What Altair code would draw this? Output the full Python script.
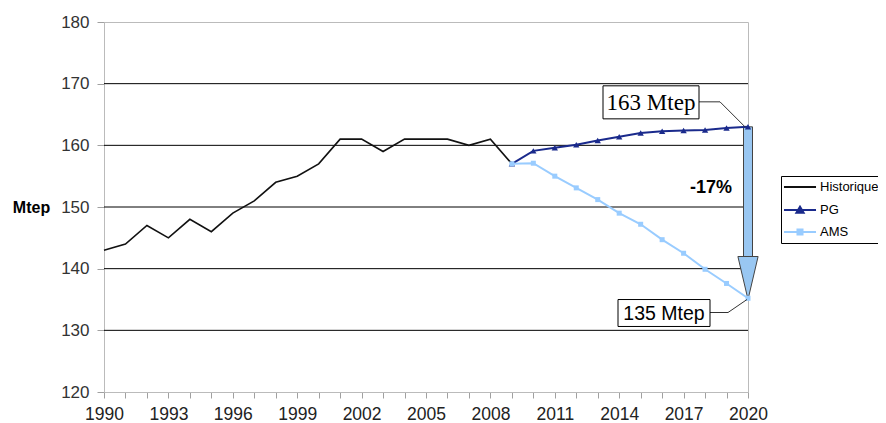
import altair as alt
import pandas as pd

# ---------------- data ----------------
hist_years = list(range(1990, 2010))
hist_values = [143, 144, 147, 145, 148, 146, 149, 151, 154, 155,
               157, 161, 161, 159, 161, 161, 161, 160, 161, 157]

proj_years = list(range(2009, 2021))
pg_values = [157.0, 159.1, 159.6, 160.1, 160.8, 161.4, 162.0, 162.3, 162.4, 162.5, 162.8, 163.0]
ams_values = [157.0, 157.1, 155.0, 153.1, 151.2, 149.0, 147.2, 144.7, 142.5, 139.9, 137.6, 135.2]

series_names = ["Historique", "PG", "AMS"]
series_colors = ["#111111", "#1A2A8C", "#99CCFF"]

y_ticks = [120, 130, 140, 150, 160, 170, 180]
grid_values = [130, 140, 150, 160, 170]
x_years = list(range(1990, 2021))

# annotation values
label_year = 2020
pg_end = 163
ams_end = 135
arrow_shaft_end = 141.5
change_pct = round((ams_end - pg_end) / pg_end * 100)

# ---------------- tables ----------------
hist_df = pd.DataFrame({"year": hist_years, "value": hist_values, "series": "Historique"})
pg_df = pd.DataFrame({"year": proj_years, "value": pg_values, "series": "PG"})
ams_df = pd.DataFrame({"year": proj_years, "value": ams_values, "series": "AMS"})
all_df = pd.concat([hist_df, pg_df, ams_df], ignore_index=True)
grid_df = pd.DataFrame({"year": [label_year] * len(grid_values), "value": grid_values})
arrow_df = pd.DataFrame({"year": [label_year], "value": [pg_end], "shaft_end": [arrow_shaft_end],
                         "tip": [ams_end], "mid": [(pg_end + ams_end) / 2],
                         "pct": [f"{change_pct}%"]})
top_lab = pd.DataFrame({"year": [label_year], "value": [pg_end], "label": [f"{pg_end} Mtep"]})
bot_lab = pd.DataFrame({"year": [label_year], "value": [ams_end], "label": [f"{ams_end} Mtep"]})

FONT = "Liberation Sans"

xscale = alt.Scale(domain=[1990, 2020], nice=False, zero=False, padding=0)
yscale = alt.Scale(domain=[120, 180], nice=False, zero=False, padding=0)

x_axis = alt.Axis(values=x_years, title=None, grid=False,
                  labelExpr="(datum.value - 1990) % 3 == 0 ? datum.label : ''",
                  labelOverlap=False, labelFlush=False, labelFont=FONT, labelFontSize=17.5,
                  labelColor="#222222", labelPadding=7, tickSize=6, tickColor="#A0A0A0",
                  domainColor="#BBBBBB", format="d")
y_axis = alt.Axis(values=y_ticks, title="Mtep", grid=False, labelFont=FONT, labelFontSize=17,
                  labelOverlap=False,
                  labelColor="#333333", labelPadding=8, tickSize=7, tickColor="#A0A0A0",
                  domainColor="#BBBBBB", titleFont=FONT, titleFontSize=16, titleFontWeight="bold",
                  titleAngle=0, titleX=-73, titleY=185, titleAlign="center",
                  titleBaseline="middle", titleColor="#000000")

X = alt.X("year:Q", scale=xscale, axis=x_axis)
Y = alt.Y("value:Q", scale=yscale, axis=y_axis)

grid = alt.Chart(grid_df).mark_rule(color="#000000", strokeWidth=1).encode(y=Y)

hist_line = alt.Chart(hist_df).mark_line(color=series_colors[0], strokeWidth=1.6).encode(x=X, y=Y)

shaft = alt.Chart(arrow_df).mark_bar(size=9, orient="vertical", color="#99C7F2",
                                     stroke="#444444", strokeWidth=1).encode(
    x=X, y=Y, y2="shaft_end:Q")
head = alt.Chart(arrow_df).mark_point(shape="M-0.47,-2L0.47,-2L0,0Z", size=1849, filled=True,
                                      fill="#99C7F2", stroke="#444444", strokeWidth=1,
                                      opacity=1).encode(
    x=X, y=alt.Y("tip:Q", scale=yscale, axis=y_axis))

pg_line = alt.Chart(pg_df).mark_line(color=series_colors[1], strokeWidth=2).encode(x=X, y=Y)
pg_pts = alt.Chart(pg_df).mark_point(shape="triangle-up", size=40, filled=True,
                                     color=series_colors[1], opacity=1).encode(x=X, y=Y)
ams_line = alt.Chart(ams_df).mark_line(color=series_colors[2], strokeWidth=2).encode(x=X, y=Y)
ams_pts = alt.Chart(ams_df).mark_point(shape="square", size=25, filled=True,
                                       color=series_colors[2], opacity=1).encode(x=X, y=Y)

# legend carrier (invisible in the plot)
legend = alt.Legend(title=None, orient="none", legendX=677, legendY=154, direction="vertical",
                    labelFont=FONT, labelFontSize=13, labelColor="#000000",
                    strokeColor="#000000", fillColor="#FFFFFF", padding=4,
                    symbolSize=144, symbolStrokeWidth=2, symbolOffset=8, labelOffset=13,
                    rowPadding=8, symbolOpacity=1)
legend_layer = alt.Chart(all_df).mark_point(opacity=0, filled=True).encode(
    x=X, y=Y,
    fill=alt.Fill("series:N", scale=alt.Scale(domain=series_names, range=series_colors),
                  legend=legend, sort=series_names),
    stroke=alt.Stroke("series:N", scale=alt.Scale(domain=series_names, range=series_colors),
                      legend=legend, sort=series_names),
    shape=alt.Shape("series:N", scale=alt.Scale(domain=series_names, range=[
        "M-2.67,0H2.67",
        "M-2.67,0H2.67M-0.6,0.45L0,-0.55L0.6,0.45Z",
        "M-2.67,0H2.67M-0.42,-0.42H0.42V0.42H-0.42Z"]), legend=legend, sort=series_names),
)

# annotations
top_leader = alt.Chart(top_lab).mark_point(shape="M-0.98,-0.5L-0.56,-0.5L-0.06,0", size=10000,
                                           filled=False, stroke="#333333", strokeWidth=1,
                                           opacity=1).encode(x=X, y=Y)
top_box = alt.Chart(top_lab).mark_point(shape="M-1,-0.344H1V0.344H-1Z", size=9216, filled=True,
                                        fill="#FFFFFF", stroke="#000000", strokeWidth=1,
                                        opacity=1, xOffset=-97, yOffset=-24.5).encode(x=X, y=Y)
top_text = alt.Chart(top_lab).mark_text(font="Liberation Serif", fontSize=23, color="#000000",
                                        align="center", baseline="middle",
                                        dx=-97, dy=-24).encode(x=X, y=Y, text="label:N")

bot_leader = alt.Chart(bot_lab).mark_point(shape="M-0.76,0.26L-0.4,0.26L-0.02,0", size=10000,
                                           filled=False, stroke="#333333", strokeWidth=1,
                                           opacity=1).encode(x=X, y=Y)
bot_box = alt.Chart(bot_lab).mark_point(shape="M-1,-0.293H1V0.293H-1Z", size=8464, filled=True,
                                        fill="#FFFFFF", stroke="#000000", strokeWidth=1,
                                        opacity=1, xOffset=-84, yOffset=13.5).encode(x=X, y=Y)
bot_text = alt.Chart(bot_lab).mark_text(font=FONT, fontSize=19.5, color="#000000",
                                        align="center", baseline="middle",
                                        dx=-84, dy=14).encode(x=X, y=Y, text="label:N")

pct_text = alt.Chart(arrow_df).mark_text(font=FONT, fontSize=18, fontWeight="bold", color="#000000",
                                         align="center", baseline="middle",
                                         dx=-37, dy=-25).encode(
    x=X, y=alt.Y("mid:Q", scale=yscale, axis=y_axis), text="pct:N")

chart = alt.layer(
    grid, hist_line, shaft, head, pg_line, pg_pts, ams_line, ams_pts, legend_layer,
    top_leader, top_box, top_text, bot_leader, bot_box, bot_text, pct_text
).properties(
    width=644, height=370,
    autosize=alt.AutoSizeParams(type="none"),
    padding={"left": 96, "top": 14, "right": 130, "bottom": 30},
    background="#FFFFFF",
).configure_view(stroke="#BBBBBB", strokeWidth=1)

chart.save("out.html", embed_options={"renderer": "svg", "actions": False})
